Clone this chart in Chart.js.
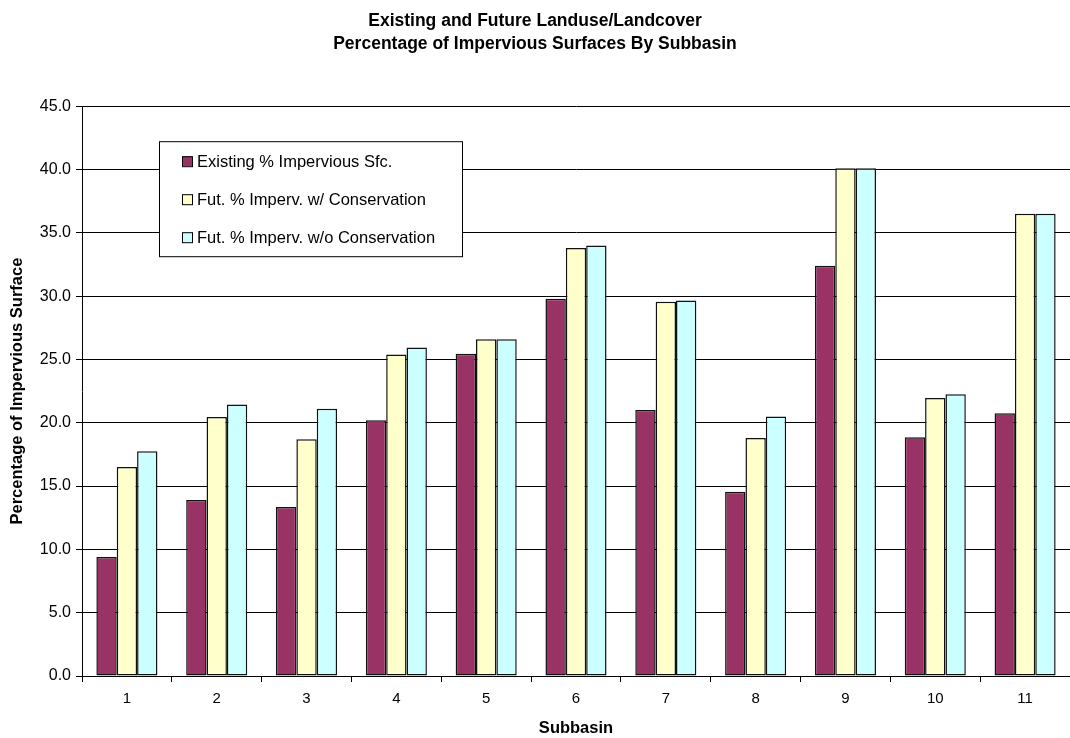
<!DOCTYPE html>
<html>
<head>
<meta charset="utf-8">
<script src="https://cdn.jsdelivr.net/npm/chart.js@4/dist/chart.umd.min.js"></script>
<style>
    html, body { margin: 0; padding: 0; background: #fff; }
    #wrap { width: 1070px; height: 738px; }
</style>
</head>
<body>
<div id="wrap"><canvas id="impChart" width="1070" height="738"></canvas></div>
<script>
const subbasins = ['1', '2', '3', '4', '5', '6', '7', '8', '9', '10', '11'];
const existingPct = [9.4, 13.9, 13.35, 20.2, 25.45, 29.8, 21.0, 14.55, 32.4, 18.85, 20.75];
const futureWithCons = [16.5, 20.45, 18.7, 25.4, 26.6, 33.8, 29.55, 18.8, 40.1, 21.95, 36.5];
const futureWithoutCons = [17.75, 21.45, 21.1, 25.95, 26.6, 34.0, 29.65, 20.5, 40.1, 22.25, 36.5];
const seriesNames = ['Existing % Impervious Sfc.', 'Fut. % Imperv. w/ Conservation', 'Fut. % Imperv. w/o Conservation'];
const seriesColors = ['#993366', '#FFFFCC', '#CCFFFF'];

const FONT = 'Arial, "Liberation Sans", sans-serif';

// legend box drawn inside the plot, like the spreadsheet original
const boxLegend = {
    id: 'boxLegend',
    afterDraw(chart) {
        const ctx = chart.ctx;
        const area = chart.chartArea;
        const x = area.left + 77, y = area.top + 35, w = 303, h = 115;
        ctx.save();
        ctx.fillStyle = '#fff';
        ctx.fillRect(x, y, w, h);
        ctx.strokeStyle = '#000';
        ctx.lineWidth = 1;
        ctx.strokeRect(x + 0.5, y + 0.5, w, h);
        ctx.font = '16.5px ' + FONT;
        ctx.textBaseline = 'middle';
        chart.data.datasets.forEach((ds, i) => {
            const cy = y + 20 + i * 38;
            ctx.fillStyle = ds.backgroundColor;
            ctx.fillRect(x + 23, cy - 5, 10, 10);
            ctx.strokeStyle = '#000';
            ctx.strokeRect(x + 23.5, cy - 4.5, 10, 10);
            ctx.fillStyle = '#000';
            ctx.fillText(ds.label, x + 38, cy + 1);
        });
        ctx.restore();
    }
};

const ctx = document.getElementById('impChart').getContext('2d');
new Chart(ctx, {
    type: 'bar',
    data: {
        labels: subbasins,
        datasets: [
            { label: seriesNames[0], data: existingPct, backgroundColor: seriesColors[0] },
            { label: seriesNames[1], data: futureWithCons, backgroundColor: seriesColors[1] },
            { label: seriesNames[2], data: futureWithoutCons, backgroundColor: seriesColors[2] }
        ].map(d => Object.assign(d, { borderColor: '#111', borderWidth: 1.5, borderSkipped: false }))
    },
    options: {
        responsive: false,
        animation: false,
        datasets: {
            bar: { barPercentage: 1.0, categoryPercentage: 0.68 }
        },
        layout: { padding: 0 },
        plugins: {
            legend: { display: false },
            tooltip: { enabled: false },
            title: {
                display: true,
                text: ['Existing and Future Landuse/Landcover', 'Percentage of Impervious Surfaces By Subbasin'],
                color: '#000',
                font: { family: FONT, size: 17.5, weight: 'bold', lineHeight: 1.32 },
                padding: { top: 10, bottom: 50 }
            }
        },
        scales: {
            x: {
                offset: true,
                grid: {
                    offset: true,
                    drawOnChartArea: false,
                    drawTicks: true,
                    tickLength: 6,
                    color: '#000'
                },
                border: { color: '#000', width: 1 },
                ticks: { color: '#000', font: { family: FONT, size: 15 }, padding: 8, maxRotation: 0 },
                title: {
                    display: true,
                    text: 'Subbasin',
                    color: '#000',
                    font: { family: FONT, size: 16.5, weight: 'bold' },
                    padding: { top: 4, bottom: 0 }
                },
                afterFit(scale) { scale.height = 62; }
            },
            y: {
                min: 0,
                max: 45,
                ticks: {
                    stepSize: 5,
                    color: '#000',
                    font: { family: FONT, size: 16 },
                    padding: 5,
                    callback: v => v.toFixed(1)
                },
                grid: { color: '#000', lineWidth: 1, tickLength: 6 },
                border: { color: '#000', width: 1 },
                title: {
                    display: true,
                    text: 'Percentage of Impervious Surface',
                    color: '#000',
                    font: { family: FONT, size: 16.5, weight: 'bold' },
                    padding: { top: 8, bottom: 0 }
                },
                afterFit(scale) { scale.width = 82; }
            }
        }
    },
    plugins: [boxLegend]
});
</script>
</body>
</html>
